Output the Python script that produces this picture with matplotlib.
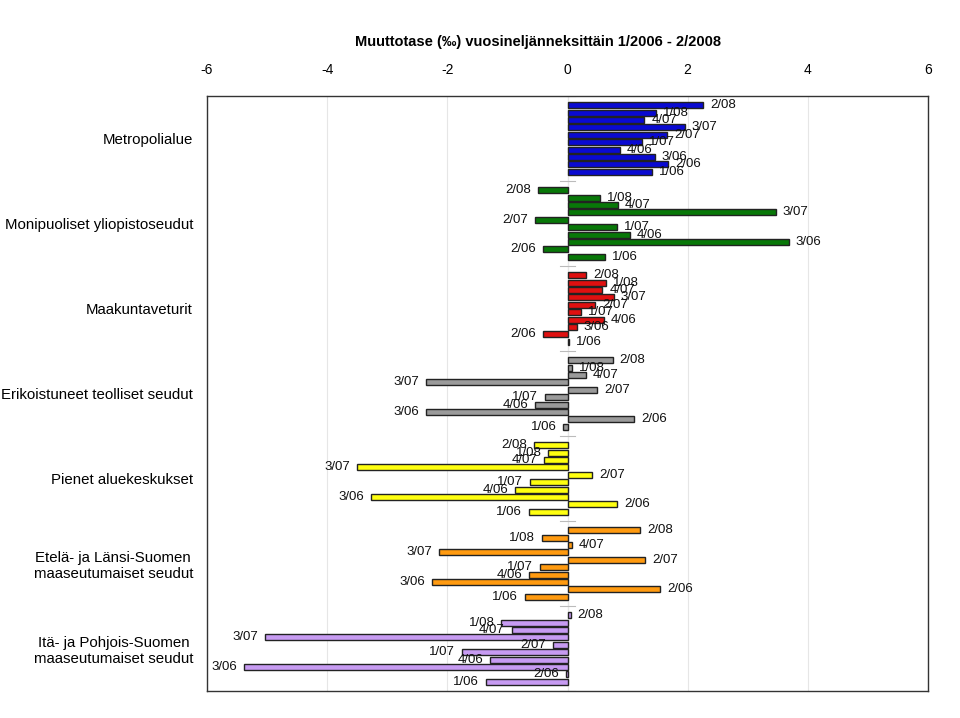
import numpy as np
import matplotlib
matplotlib.use('Agg')
import matplotlib.pyplot as plt

plt.rcParams['font.family'] = ['Liberation Sans', 'DejaVu Sans']
plt.rcParams['axes.unicode_minus'] = False

regions = [
    'Metropolialue',
    'Monipuoliset yliopistoseudut',
    'Maakuntaveturit',
    'Erikoistuneet teolliset seudut',
    'Pienet aluekeskukset',
    'Etelä- ja Länsi-Suomen\nmaaseutumaiset seudut',
    'Itä- ja Pohjois-Suomen\nmaaseutumaiset seudut',
]
# quarters from top to bottom inside each group
quarters = ['2/08', '1/08', '4/07', '3/07', '2/07', '1/07', '4/06', '3/06', '2/06', '1/06']

metropoli = [2.26, 1.48, 1.28, 1.95, 1.66, 1.24, 0.87, 1.45, 1.68, 1.40]
yliopisto = [-0.49, 0.54, 0.84, 3.47, -0.54, 0.82, 1.04, 3.68, -0.41, 0.62]
veturit = [0.31, 0.64, 0.58, 0.77, 0.46, 0.23, 0.61, 0.15, -0.41, 0.03]
teolliset = [0.75, 0.07, 0.30, -2.35, 0.49, -0.37, -0.54, -2.35, 1.11, -0.07]
pienet = [-0.56, -0.32, -0.39, -3.50, 0.41, -0.62, -0.87, -3.27, 0.83, -0.64]
etela_lansi = [1.21, -0.42, 0.07, -2.14, 1.29, -0.46, -0.64, -2.26, 1.54, -0.71]
ita_pohjoinen = [0.05, -1.10, -0.93, -5.04, -0.24, -1.76, -1.29, -5.38, -0.03, -1.36]

series = [metropoli, yliopisto, veturit, teolliset, pienet, etela_lansi, ita_pohjoinen]
colors = ['#0a0ad2', '#087808', '#e01010', '#9a9a9a', '#ffff10', '#ff9a10', '#c79bf2']

fig = plt.figure(figsize=(9.6, 7.18), dpi=100)
ax = fig.add_axes([207 / 960, 1 - 691 / 718, (928 - 207) / 960, (691 - 96) / 718])

step = 0.087
for i, (vals, col) in enumerate(zip(series, colors)):
    ys = i + (np.arange(len(quarters)) - 4.5) * step
    ax.barh(ys, vals, height=0.072, color=col, edgecolor='#222222', linewidth=1.0, zorder=3)
    for y, v, q in zip(ys, vals, quarters):
        off = 5 if v >= 0 else -5
        ax.annotate(q, (v, y), xytext=(off, 0), textcoords='offset points',
                    ha='left' if v >= 0 else 'right', va='center', fontsize=9.5,
                    color='#111111', zorder=4)

# category axis at zero with small tick crosses between groups
ax.axvline(0, color='#cccccc', linewidth=0.8, zorder=1)
for b in np.arange(-0.5, 7.0, 1.0):
    ax.plot([-0.12, 0.12], [b, b], color='#bbbbbb', linewidth=0.8, zorder=2)

ax.set_xlim(-6, 6)
ax.set_ylim(6.5, -0.5)
ax.set_xticks([-6, -4, -2, 0, 2, 4, 6])
ax.xaxis.tick_top()
ax.tick_params(axis='x', length=0, labelsize=10, pad=14)
ax.set_yticks(range(len(regions)))
ax.set_yticklabels(regions, fontsize=10.8, multialignment='center')
ax.tick_params(axis='y', length=0, pad=10)
ax.grid(axis='x', color='#e6e6e6', linewidth=0.8, zorder=0)
for s in ax.spines.values():
    s.set_color('#333333')
    s.set_linewidth(1.0)

fig.text(538 / 960, 1 - 42 / 718, 'Muuttotase (‰) vuosineljänneksittäin 1/2006 - 2/2008',
         ha='center', va='center', fontsize=10.5, fontweight='bold')

fig.savefig('out.png', dpi=100, facecolor='white')
